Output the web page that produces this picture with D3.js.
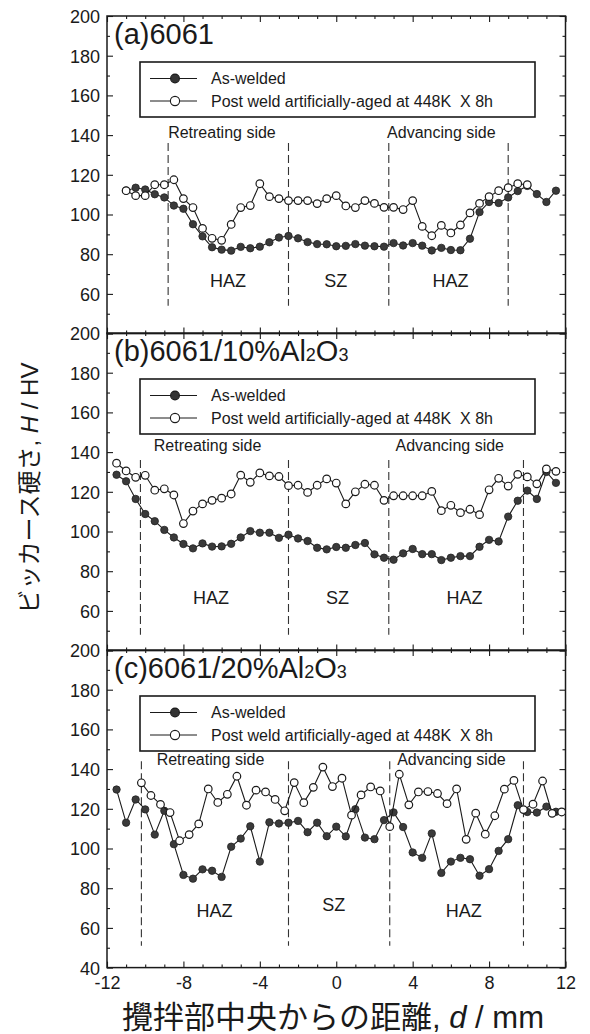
<!DOCTYPE html>
<html>
<head>
<meta charset="utf-8">
<script src="https://cdn.jsdelivr.net/npm/d3@7"></script>
<style>
  body { margin: 0; background: #fff; }
  svg { display: block; }
  text { font-family: "Liberation Sans", Arial, Helvetica, "Noto Sans CJK JP", sans-serif; fill: #1a1a1a; white-space: pre; }
</style>
</head>
<body>
<svg id="chart" width="590" height="1034"></svg>
<script>
// ---- Hardness profiles across the friction-stir weld (distance d in mm, hardness in HV) ----

// (a) 6061
const aWeldedD  = [-11, -10.5, -10, -9.5, -9, -8.5, -8, -7.5, -7, -6.5, -6, -5.5, -5, -4.5, -4, -3.5, -3, -2.5, -2, -1.5, -1, -0.5, 0, 0.5, 1, 1.5, 2, 2.5, 3, 3.5, 4, 4.5, 5, 5.5, 6, 6.5, 7, 7.5, 8, 8.5, 9, 9.5, 10, 10.5, 11, 11.5];
const aWeldedHV = [112, 113.5, 112.6, 110.2, 108.6, 104.5, 102.9, 95.1, 89, 83.5, 82.3, 81.8, 83.7, 83, 83.8, 86, 88.4, 89.2, 88, 86.1, 85.1, 85, 84, 84.2, 85.1, 84.3, 84, 83.8, 85.6, 84.4, 85.6, 84.3, 81.9, 83.2, 82.1, 82, 87.8, 101.2, 106.3, 105.8, 108.6, 111.8, 114.4, 110.3, 106.3, 112];
const aAgedD    = [-11, -10.5, -10, -9.5, -9, -8.5, -8, -7.5, -7, -6.5, -6, -5.5, -5, -4.5, -4, -3.5, -3, -2.5, -2, -1.5, -1, -0.5, 0, 0.5, 1, 1.5, 2, 2.5, 3, 3.5, 4, 4.5, 5, 5.5, 6, 6.5, 7, 7.5, 8, 8.5, 9, 9.5, 10];
const aAgedHV   = [112, 109.5, 109.5, 115, 115, 117.5, 108, 103.5, 93, 88, 87, 95, 103.5, 104.5, 115.5, 109, 108, 107, 107, 107, 105.5, 108, 109.5, 104.3, 103.5, 107, 105.6, 103.6, 103.6, 102.5, 107, 94, 89.3, 94.5, 90.7, 94.7, 100.8, 105.6, 109, 112, 113.5, 115.5, 115];
const aZones    = [-8.8, -2.5, 2.75, 9.0];

// (b) 6061/10%Al2O3
const bWeldedD  = [-11.5, -11, -10.5, -10, -9.5, -9, -8.5, -8, -7.5, -7, -6.5, -6, -5.5, -5, -4.5, -4, -3.5, -3, -2.5, -2, -1.5, -1, -0.5, 0, 0.5, 1, 1.5, 2, 2.5, 3, 3.5, 4, 4.5, 5, 5.5, 6, 6.5, 7, 7.5, 8, 8.5, 9, 9.5, 10, 10.5, 11, 11.5];
const bWeldedHV = [128.6, 125.3, 116.4, 108.8, 105.2, 100.8, 97, 93.7, 91.5, 94, 92.4, 92.5, 93.8, 97, 100.2, 99.4, 99.4, 96.8, 98.4, 96.5, 95.2, 91.8, 91, 92.2, 91.8, 93.2, 94.2, 88.5, 86.8, 85.8, 89, 91.2, 88.6, 88.6, 85.6, 86.8, 87.6, 87.6, 92.3, 95.8, 95, 107.5, 115.5, 120.6, 116.4, 130, 124.5];
const bAgedD    = [-11.5, -11, -10.5, -10, -9.5, -9, -8.5, -8, -7.5, -7, -6.5, -6, -5.5, -5, -4.5, -4, -3.5, -3, -2.5, -2, -1.5, -1, -0.5, 0, 0.5, 1, 1.5, 2, 2.5, 3, 3.5, 4, 4.5, 5, 5.5, 6, 6.5, 7, 7.5, 8, 8.5, 9, 9.5, 10, 10.5, 11, 11.5];
const bAgedHV   = [134.4, 130.5, 127.3, 128.3, 120.8, 121.5, 118.4, 104, 110.3, 113.9, 115.7, 116.8, 118.9, 128.4, 124.8, 129.5, 128, 127.7, 123.1, 123.3, 119.7, 123.3, 126.5, 124.4, 113.9, 120, 123.8, 123.3, 115.7, 118, 118, 118, 118, 120.2, 110.5, 113.2, 109.5, 111.2, 108.5, 121, 126.8, 122.9, 128.8, 127.5, 124, 131.5, 130.3];
const bZones    = [-10.25, -2.5, 2.75, 9.8];

// (c) 6061/20%Al2O3
const cWeldedD  = [-11.5, -11, -10.5, -10, -9.5, -9, -8.5, -8, -7.5, -7, -6.5, -6, -5.5, -5, -4.5, -4, -3.5, -3, -2.5, -2, -1.5, -1, -0.5, 0, 0.5, 1, 1.5, 2, 2.5, 3, 3.5, 4, 4.5, 5, 5.5, 6, 6.5, 7, 7.5, 8, 8.5, 9, 9.5, 10, 10.5, 11, 11.5];
const cWeldedHV = [129.7, 113, 124.7, 119.7, 107, 119, 102.2, 86.7, 84.8, 89.5, 88.8, 85.7, 100.9, 105, 111.2, 93.4, 113.2, 112.6, 113, 113.9, 108.2, 113, 106.2, 111, 106.1, 119.8, 105.5, 104.7, 114.3, 118.2, 110.8, 98, 95.3, 107.6, 87.7, 93.4, 95.3, 94.6, 86.3, 89.6, 98.8, 104.7, 121.8, 118.4, 118.1, 121.1, 118.5];
const cAgedD    = [-10.2, -9.7, -9.2, -8.7, -8.2, -7.7, -7.2, -6.7, -6.2, -5.7, -5.2, -4.7, -4.2, -3.7, -3.2, -2.7, -2.2, -1.7, -1.2, -0.7, -0.2, 0.3, 0.8, 1.3, 1.8, 2.3, 2.8, 3.3, 3.8, 4.3, 4.8, 5.3, 5.8, 6.3, 6.8, 7.3, 7.8, 8.3, 8.8, 9.3, 9.8, 10.3, 10.8, 11.3, 11.8];
const cAgedHV   = [133.1, 126.7, 122.2, 118.1, 103.9, 107, 112.4, 130, 123.2, 127.3, 136.4, 121.8, 129.4, 128.5, 124.7, 119, 133.2, 123.1, 130.8, 141, 131.2, 135.4, 116.8, 127, 131, 129, 111, 137.4, 122, 128.5, 128.7, 127.7, 122.6, 130, 104.6, 117.8, 107.2, 116.5, 129.9, 134.3, 119.6, 122.3, 134, 117.7, 118.4];
const cZones    = [-10.2, -2.5, 2.8, 9.8];

// Axis ticks and labels
const xTickValues  = [-12, -8, -4, 0, 4, 8, 12];
const xTickLabels  = ["-12", "-8", "-4", "0", "4", "8", "12"];
const xMinorTicks  = [-11, -10, -9, -7, -6, -5, -3, -2, -1, 1, 2, 3, 5, 6, 7, 9, 10, 11];
const yTickValues  = [40, 60, 80, 100, 120, 140, 160, 180, 200];
const yMinorTicks  = [50, 70, 90, 110, 130, 150, 170, 190];
const yLabelsUpper = ["60", "80", "100", "120", "140", "160", "180", "200"];
const yLabelsLower = ["40", "60", "80", "100", "120", "140", "160", "180", "200"];

const seriesNames = ["As-welded", "Post weld artificially-aged at 448K  X 8h"];
const zoneNames   = ["HAZ", "SZ", "HAZ"];
const sideNames   = ["Retreating side", "Advancing side"];

// ---- Layout ----
const plotLeft = 107, plotRight = 565.5, panelH = 317.6;
const panelTops = [16, 333, 650];
const ink = "#1a1a1a";

const panels = [
  { title: ["(a)6061"], welded: [aWeldedD, aWeldedHV], aged: [aAgedD, aAgedHV], zones: aZones,
    yLabels: yLabelsUpper, dash: [136, 54], side: [-8.8, 2.66], sideY: 122,
    zoneX: [-5.66, -0.02, 5.98], zoneY: [271, 271, 271] },
  { title: ["(b)6061/10%Al", "2", "O", "3"], welded: [bWeldedD, bWeldedHV], aged: [bAgedD, bAgedHV], zones: bZones,
    yLabels: yLabelsUpper, dash: [136, 48], side: [-9.55, 3.1], sideY: 117.5,
    zoneX: [-6.55, 0.07, 6.71], zoneY: [270.5, 270.5, 270.5] },
  { title: ["(c)6061/20%Al", "2", "O", "3"], welded: [cWeldedD, cWeldedHV], aged: [cAgedD, cAgedHV], zones: cZones,
    yLabels: yLabelsLower, dash: [144, 51], side: [-9.4, 3.19], sideY: 115,
    zoneX: [-6.37, -0.13, 6.68], zoneY: [266.5, 261, 266.5] }
];

const svg = d3.select("#chart");
const x = d3.scaleLinear().domain([-12, 12]).range([plotLeft, plotRight]);

function tidy(sel) {
  sel.select(".domain").remove();
  sel.selectAll(".tick line").attr("stroke", ink).attr("stroke-width", 1.1);
  return sel;
}

panels.forEach((p, i) => {
  const top = panelTops[i], bottom = top + panelH;
  const y = d3.scaleLinear().domain([40, 200]).range([bottom, top]);
  const g = svg.append("g");

  // inward ticks on all four sides
  const tk = g.append("g");
  tidy(tk.append("g").attr("transform", `translate(0,${bottom})`).call(d3.axisBottom(x).tickValues(xMinorTicks).tickSize(-3).tickFormat("")));
  tidy(tk.append("g").attr("transform", `translate(0,${bottom})`).call(d3.axisBottom(x).tickValues(xTickValues).tickSize(-6).tickFormat("")));
  tidy(tk.append("g").attr("transform", `translate(0,${top})`).call(d3.axisTop(x).tickValues(xMinorTicks).tickSize(-3).tickFormat("")));
  tidy(tk.append("g").attr("transform", `translate(0,${top})`).call(d3.axisTop(x).tickValues(xTickValues).tickSize(-6).tickFormat("")));
  tidy(tk.append("g").attr("transform", `translate(${plotLeft},0)`).call(d3.axisLeft(y).tickValues(yMinorTicks).tickSize(-3).tickFormat("")));
  tidy(tk.append("g").attr("transform", `translate(${plotLeft},0)`).call(d3.axisLeft(y).tickValues(yTickValues).tickSize(-6).tickFormat("")));
  tidy(tk.append("g").attr("transform", `translate(${plotRight},0)`).call(d3.axisRight(y).tickValues(yMinorTicks).tickSize(-3).tickFormat("")));
  tidy(tk.append("g").attr("transform", `translate(${plotRight},0)`).call(d3.axisRight(y).tickValues(yTickValues).tickSize(-6).tickFormat("")));

  // y tick labels
  const yVals = p.yLabels.map(Number);
  const yl = g.append("g").attr("transform", `translate(${plotLeft},0)`)
    .call(d3.axisLeft(y).tickValues(yVals).tickSize(0).tickPadding(7).tickFormat((d, k) => p.yLabels[k]));
  yl.select(".domain").remove();
  yl.attr("font-size", null).attr("font-family", null);
  yl.selectAll("text").attr("font-size", 18).attr("fill", ink).attr("dy", "0.36em");

  // frame
  g.append("rect").attr("x", plotLeft).attr("y", top)
    .attr("width", plotRight - plotLeft).attr("height", panelH)
    .attr("fill", "none").attr("stroke", ink).attr("stroke-width", 1.5);

  // panel title
  const t = g.append("text").attr("x", plotLeft + 7).attr("y", top + 28).attr("font-size", 29);
  p.title.forEach((s, k) => {
    t.append("tspan").text(s).attr("font-size", k % 2 === 1 ? 18 : 29);
  });

  // legend
  const lg = g.append("g");
  lg.append("rect").attr("x", 140).attr("y", top + 46).attr("width", 395).attr("height", 55)
    .attr("fill", "#fff").attr("stroke", ink).attr("stroke-width", 1.6);
  [top + 62.5, top + 85].forEach((ly, k) => {
    lg.append("line").attr("x1", 150).attr("x2", 197).attr("y1", ly).attr("y2", ly)
      .attr("stroke", ink).attr("stroke-width", 1);
    lg.append("circle").attr("cx", 175).attr("cy", ly).attr("r", k === 0 ? 4.4 : 4.6)
      .attr("fill", k === 0 ? "#333" : "#fff").attr("stroke", ink).attr("stroke-width", 1.1);
    lg.append("text").attr("x", 211).attr("y", ly + 5.5).attr("font-size", 16).text(seriesNames[k]);
  });

  // zone boundaries
  g.selectAll("line.zone").data(p.zones).join("line").attr("class", "zone")
    .attr("x1", d => x(d)).attr("x2", d => x(d))
    .attr("y1", y(p.dash[0])).attr("y2", y(p.dash[1]))
    .attr("stroke", "#333").attr("stroke-width", 1.1).attr("stroke-dasharray", "8,4");

  // side + zone labels
  sideNames.forEach((s, k) => {
    g.append("text").attr("x", x(p.side[k])).attr("y", top + p.sideY).attr("font-size", 16).text(s);
  });
  zoneNames.forEach((s, k) => {
    g.append("text").attr("x", x(p.zoneX[k])).attr("y", top + p.zoneY[k])
      .attr("text-anchor", "middle").attr("font-size", 18).text(s);
  });

  // data series: as-welded (filled) then aged (open) on top
  const line = d3.line().x(d => x(d[0])).y(d => y(d[1]));
  const welded = p.welded[0].map((d, k) => [d, p.welded[1][k]]);
  const aged = p.aged[0].map((d, k) => [d, p.aged[1][k]]);

  g.append("path").datum(welded).attr("d", line).attr("fill", "none").attr("stroke", ink).attr("stroke-width", 1.1);
  g.append("g").selectAll("circle").data(welded).join("circle")
    .attr("cx", d => x(d[0])).attr("cy", d => y(d[1])).attr("r", 3.7)
    .attr("fill", "#3a3a3a").attr("stroke", "#222").attr("stroke-width", 0.8);

  g.append("path").datum(aged).attr("d", line).attr("fill", "none").attr("stroke", ink).attr("stroke-width", 1.1);
  g.append("g").selectAll("circle").data(aged).join("circle")
    .attr("cx", d => x(d[0])).attr("cy", d => y(d[1])).attr("r", 3.8)
    .attr("fill", "#fff").attr("stroke", ink).attr("stroke-width", 1.2);
});

// x tick labels along the bottom panel
const lastBottom = panelTops[2] + panelH;
const xl = svg.append("g").attr("transform", `translate(0,${lastBottom})`)
  .call(d3.axisBottom(x).tickValues(xTickValues).tickSize(0).tickPadding(9).tickFormat((d, k) => xTickLabels[k]));
xl.select(".domain").remove();
xl.attr("font-size", null).attr("font-family", null);
xl.selectAll("text").attr("font-size", 18).attr("fill", ink);

// axis titles
const yt = svg.append("text").attr("transform", "translate(38,488) rotate(-90)")
  .attr("text-anchor", "middle").attr("font-size", 24);
yt.append("tspan").text("ビッカース硬さ, ");
yt.append("tspan").attr("font-style", "italic").text("H");
yt.append("tspan").text(" / HV");

const xt = svg.append("text").attr("x", 333).attr("y", 1028)
  .attr("text-anchor", "middle").attr("font-size", 31);
xt.append("tspan").text("攪拌部中央からの距離, ");
xt.append("tspan").attr("font-style", "italic").text("d");
xt.append("tspan").text(" / mm");
</script>
</body>
</html>
